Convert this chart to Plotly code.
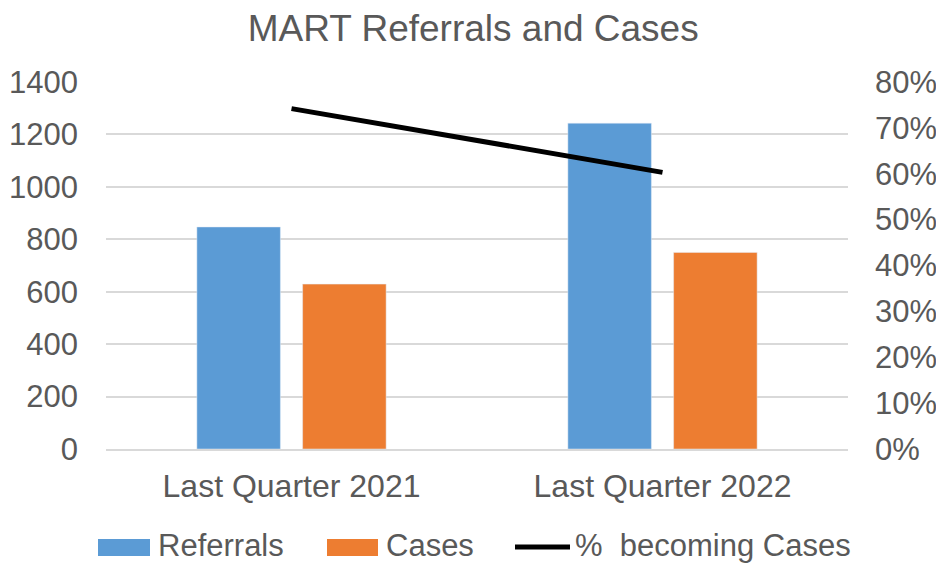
import plotly.graph_objects as go

categories = ["Last Quarter 2021", "Last Quarter 2022"]
referrals = [847, 1243]
cases = [629, 750]
pct_cases = [0.742, 0.603]
series_names = ["Referrals", "Cases", "%  becoming Cases"]
series_colors = ["#5B9BD5", "#ED7D31", "black"]

font_family = "Liberation Sans, Arial, sans-serif"
grey = "#595959"

# figure geometry (page is offset by the 8px body margin)
W, H = 936, 557
ML, MR, MT, MB = 98, 96, 74, 116
PW, PH = W - ML - MR, H - MT - MB
OFF = 8


def px(page_x):
    return (page_x - OFF - ML) / PW


def py(page_y):
    return (H - MB - (page_y - OFF)) / PH


fig = go.Figure()
fig.add_trace(go.Bar(x=categories, y=referrals, name=series_names[0],
                     marker=dict(color=series_colors[0]), showlegend=False))
fig.add_trace(go.Bar(x=categories, y=cases, name=series_names[1],
                     marker=dict(color=series_colors[1]), showlegend=False))
fig.add_trace(go.Scatter(x=categories, y=pct_cases, name=series_names[2],
                         mode="lines", line=dict(color=series_colors[2], width=5),
                         yaxis="y2", showlegend=False))

# Excel-style legend below the plot
shapes = [
    dict(type="rect", xref="paper", yref="paper", x0=px(98), x1=px(150),
         y0=py(556), y1=py(539), fillcolor=series_colors[0], line=dict(width=0)),
    dict(type="rect", xref="paper", yref="paper", x0=px(327), x1=px(378),
         y0=py(556), y1=py(539), fillcolor=series_colors[1], line=dict(width=0)),
    dict(type="line", xref="paper", yref="paper", x0=px(515), x1=px(570),
         y0=py(547), y1=py(547), line=dict(color=series_colors[2], width=5)),
]
text_x = [156, 384, 573]
annotations = [
    dict(text=name, xref="paper", yref="paper", x=px(tx), y=py(545),
         xanchor="left", yanchor="middle", showarrow=False,
         font=dict(family=font_family, size=31, color=grey))
    for name, tx in zip(series_names, text_x)
]

fig.update_layout(
    width=W, height=H,
    paper_bgcolor="white", plot_bgcolor="white",
    margin=dict(l=ML, r=MR, t=MT, b=MB),
    title=dict(text="MART Referrals and Cases", x=0.497, xanchor="center",
               xref="container", y=1 - 20 / H, yanchor="middle",
               font=dict(family=font_family, size=37, color=grey)),
    font=dict(family=font_family, color=grey, size=31),
    barmode="group", bargap=0.43, bargroupgap=0.21,
    xaxis=dict(showgrid=False, showline=True, linecolor="#D9D9D9", linewidth=1.5,
               tickfont=dict(size=32, color=grey), ticks="", automargin=False,
               ticklabelstandoff=8),
    yaxis=dict(range=[0, 1400], dtick=200, showgrid=True, gridcolor="#D9D9D9",
               gridwidth=1.5, zeroline=False, tickfont=dict(size=31, color=grey),
               ticks="", ticklabelstandoff=27, automargin=False),
    yaxis2=dict(range=[0, 0.8], dtick=0.1, tickformat=".0%", overlaying="y",
                side="right", showgrid=False, zeroline=False, automargin=False,
                tickfont=dict(size=31, color=grey), ticks="", ticklabelstandoff=26),
    shapes=shapes,
    annotations=annotations,
    showlegend=False,
)

fig.write_html("out.html")
